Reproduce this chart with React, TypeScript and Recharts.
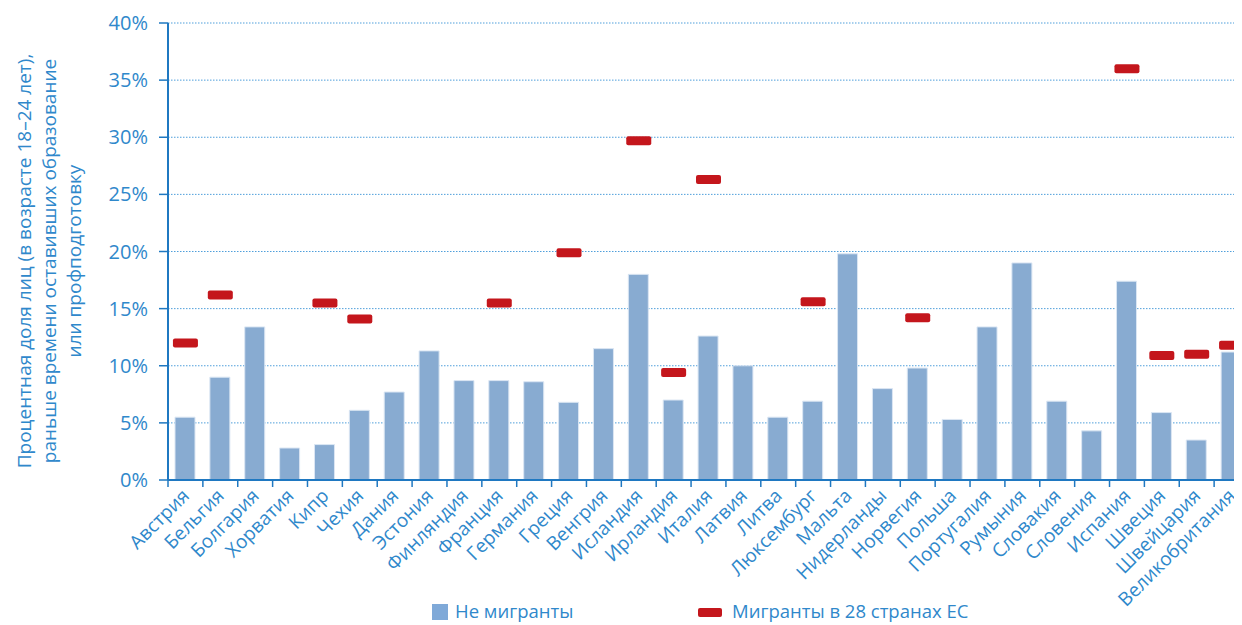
import React from 'react';
import { ComposedChart, Bar, Scatter, XAxis, YAxis, CartesianGrid, Legend } from 'recharts';

const categories = [
  'Австрия', 'Бельгия', 'Болгария', 'Хорватия', 'Кипр', 'Чехия', 'Дания', 'Эстония',
  'Финляндия', 'Франция', 'Германия', 'Греция', 'Венгрия', 'Исландия', 'Ирландия', 'Италия',
  'Латвия', 'Литва', 'Люксембург', 'Мальта', 'Нидерланды', 'Норвегия', 'Польша', 'Португалия',
  'Румыния', 'Словакия', 'Словения', 'Испания', 'Швеция', 'Швейцария', 'Великобритания',
];

const nonMigrants = [
  5.5, 9.0, 13.4, 2.8, 3.1, 6.1, 7.7, 11.3, 8.7, 8.7, 8.6, 6.8, 11.5, 18.0, 7.0, 12.6,
  10.0, 5.5, 6.9, 19.8, 8.0, 9.8, 5.3, 13.4, 19.0, 6.9, 4.3, 17.4, 5.9, 3.5, 11.2,
];

const migrants: (number | null)[] = [
  12.0, 16.2, null, null, 15.5, 14.1, null, null, null, 15.5, null, 19.9, null, 29.7, 9.4, 26.3,
  null, null, 15.6, null, null, 14.2, null, null, null, null, null, 36.0, 10.9, 11.0, 11.8,
];

const yTicks = [0, 5, 10, 15, 20, 25, 30, 35, 40];

const seriesNames = ['Не мигранты', 'Мигранты в 28 странах ЕС'];
const axisLabelLines = [
  'Процентная доля лиц (в возрасте 18–24 лет),',
  'раньше времени оставивших образование',
  'или профподготовку',
];

const data = categories.map((name, i) => ({ name, non: nonMigrants[i], mig: migrants[i] }));

const FONT = '"Open Sans", "Noto Sans", sans-serif';
const TEXT = '#2f88cb';
const AXIS = '#1f78c1';
const BAR = '#88abd1';
const RED = '#c4161c';

const CHART_W = 1250;
const CHART_H = 617;
const MARGIN = { top: 15, right: 9, bottom: 0, left: 0 };
const Y_W = 160;
const BAND = (CHART_W - MARGIN.right - MARGIN.left - Y_W) / categories.length;

const XTick = (props: any) => {
  const { x, y, payload } = props;
  const lx = x - BAND / 2;
  const ax = x + 5;
  const ay = y + 17;
  return (
    <g>
      <line x1={lx} x2={lx} y1={y} y2={y + 7} stroke={AXIS} strokeWidth={1.5} />
      <text
        x={ax}
        y={ay}
        transform={`rotate(-45, ${ax}, ${ay})`}
        textAnchor="end"
        fill={TEXT}
        fontSize={19}
        fontFamily={FONT}
      >
        {payload.value}
      </text>
    </g>
  );
};

const RedMark = (props: any) => {
  const { cx, cy, payload } = props;
  if (payload == null || payload.mig == null || cx == null || cy == null) return <g />;
  return <rect x={cx - 12.5} y={cy - 4.5} width={25} height={9} rx={2} fill={RED} />;
};

const YLabel = () => {
  const cy = 253;
  const xs = [23, 48, 73];
  return (
    <text transform="rotate(-90)" textAnchor="middle" fill={TEXT} fontSize={19} fontFamily={FONT}>
      {axisLabelLines.map((t, i) => (
        <tspan key={i} x={-cy} y={xs[i]}>
          {t}
        </tspan>
      ))}
    </text>
  );
};

const LegendContent = () => (
  <div style={{ position: 'relative', width: 1234, height: 28, fontFamily: FONT, fontSize: 18.5, color: TEXT }}>
    <div style={{ position: 'absolute', left: 424, top: 7, width: 16, height: 16, background: '#7fa9d8' }} />
    <div style={{ position: 'absolute', left: 447, top: 2, lineHeight: '24px', whiteSpace: 'nowrap' }}>{seriesNames[0]}</div>
    <div style={{ position: 'absolute', left: 690, top: 11, width: 24, height: 9, borderRadius: 2, background: RED }} />
    <div style={{ position: 'absolute', left: 724, top: 2, lineHeight: '24px', whiteSpace: 'nowrap' }}>{seriesNames[1]}</div>
  </div>
);

export default function App() {
  return (
    <div style={{ width: 1234, height: 617, overflow: 'hidden', background: '#fff' }}>
      <ComposedChart width={CHART_W} height={CHART_H} data={data} margin={MARGIN}>
        <CartesianGrid vertical={false} stroke="#4f9fdb" strokeDasharray="1.5 1.5" />
        <XAxis
          dataKey="name"
          type="category"
          interval={0}
          height={117}
          tickSize={0}
          tickMargin={0}
          tickLine={false}
          axisLine={{ stroke: AXIS, strokeWidth: 2 }}
          tick={<XTick />}
        />
        <YAxis
          type="number"
          domain={[0, 40]}
          ticks={yTicks}
          interval={0}
          width={Y_W}
          tickSize={9}
          tickMargin={11}
          tickFormatter={(v: number) => `${v}%`}
          tick={{ fill: TEXT, fontSize: 20, fontFamily: FONT }}
          tickLine={{ stroke: AXIS, strokeWidth: 1.5 }}
          axisLine={{ stroke: AXIS, strokeWidth: 2 }}
          label={<YLabel />}
        />
        <Legend
          verticalAlign="bottom"
          height={28}
          content={<LegendContent />}
          wrapperStyle={{ left: 0, width: 1234, bottom: 0 }}
        />
        <Bar
          dataKey="non"
          name={seriesNames[0]}
          fill={BAR}
          stroke="#dbe6f3"
          strokeWidth={1}
          barSize={20}
          isAnimationActive={false}
        />
        <Scatter dataKey="mig" name={seriesNames[1]} shape={<RedMark />} isAnimationActive={false} />
      </ComposedChart>
    </div>
  );
}
